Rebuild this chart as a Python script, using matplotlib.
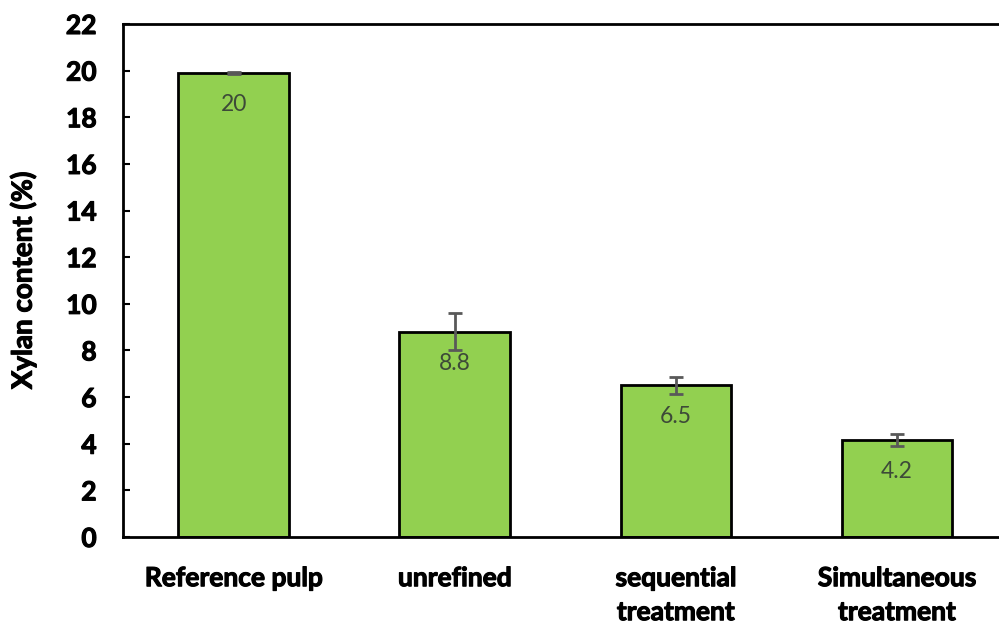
import matplotlib
matplotlib.use("Agg")
import matplotlib.pyplot as plt
import matplotlib.patheffects as pe
import numpy as np

categories = ["Reference pulp", "unrefined", "sequential\ntreatment", "Simultaneous\ntreatment"]
values = [19.9, 8.8, 6.5, 4.15]
errors = [0.05, 0.8, 0.35, 0.25]
labels = ["20", "8.8", "6.5", "4.2"]
yticks = list(range(0, 23, 2))

plt.rcParams['font.family'] = ['Lato', 'DejaVu Sans']

fig = plt.figure(figsize=(9.99, 6.23), dpi=100)
ax = fig.add_axes([123/999, 86/623, 884.5/999, 513/623])

thick = [pe.withStroke(linewidth=0.8, foreground="black")]

x = np.arange(len(categories))
ax.bar(x, values, width=0.5, color="#92D050", edgecolor="black", linewidth=2, zorder=2)
ax.errorbar(x, values, yerr=errors, fmt="none", ecolor="#595959", elinewidth=2,
            capsize=5, capthick=2, zorder=3)
for xi, v, lab in zip(x, values, labels):
    ax.annotate(lab, (xi, v), xytext=(0, -15), textcoords="offset points",
                ha="center", va="top", fontsize=16.5, color="#3d4a38", zorder=4)

ax.set_xlim(-0.5, 3.5)
ax.set_ylim(0, 22)
ax.set_yticks(yticks)
ax.set_yticklabels([str(t) for t in yticks], fontsize=19, fontweight="bold")
ax.set_xticks(x)
ax.set_xticklabels(categories, fontsize=19, fontweight="bold", linespacing=1.5)
for t in ax.get_xticklabels() + ax.get_yticklabels():
    t.set_path_effects(thick)
ax.tick_params(axis="y", direction="in", length=5, width=1.5, pad=19)
ax.tick_params(axis="x", length=0, pad=21)
for s in ax.spines.values():
    s.set_linewidth(2)
    s.set_color("black")
yl = ax.set_ylabel("Xylan content (%)", fontsize=20, fontweight="bold", labelpad=21)
yl.set_path_effects(thick)

fig.savefig("out.png", dpi=100)
